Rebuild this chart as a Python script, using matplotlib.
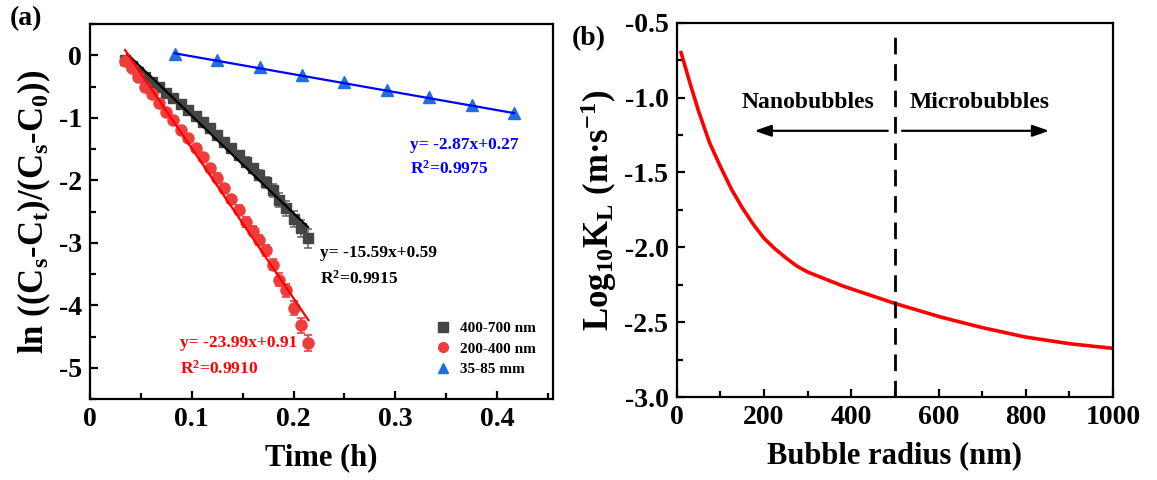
import numpy as np
import matplotlib
matplotlib.use("Agg")
import matplotlib.pyplot as plt
from matplotlib.ticker import MultipleLocator, FormatStrFormatter
from matplotlib.lines import Line2D

plt.rcParams["font.family"] = "Liberation Serif"
plt.rcParams["font.weight"] = "bold"
plt.rcParams["mathtext.fontset"] = "custom"
plt.rcParams["mathtext.rm"] = "Liberation Serif:bold"
plt.rcParams["mathtext.it"] = "Liberation Serif:bold:italic"
plt.rcParams["mathtext.bf"] = "Liberation Serif:bold"
plt.rcParams["mathtext.default"] = "regular"

# (a) dissolution data, time in h
time_pts = [0.0344, 0.041, 0.0475, 0.054, 0.0606, 0.068, 0.075, 0.082, 0.089,
            0.0966, 0.104, 0.111, 0.118, 0.1245, 0.1317, 0.139, 0.146, 0.153,
            0.160, 0.1665, 0.173, 0.180, 0.186, 0.193, 0.2005, 0.2077, 0.2146]
y_400_700 = [-0.08, -0.17, -0.26, -0.35, -0.43, -0.51, -0.60, -0.69, -0.78,
             -0.88, -0.97, -1.06, -1.16, -1.27, -1.38, -1.49, -1.60, -1.70,
             -1.81, -1.91, -2.03, -2.16, -2.31, -2.45, -2.62, -2.77, -2.93]
err_400_700 = [0.01, 0.01, 0.01, 0.01, 0.02, 0.02, 0.02, 0.02, 0.03,
               0.03, 0.03, 0.04, 0.04, 0.05, 0.05, 0.06, 0.06, 0.07,
               0.07, 0.08, 0.09, 0.10, 0.11, 0.12, 0.13, 0.14, 0.15]
y_200_400 = [-0.09, -0.21, -0.35, -0.50, -0.62, -0.77, -0.91, -1.04, -1.19,
             -1.33, -1.49, -1.63, -1.81, -1.96, -2.13, -2.30, -2.47, -2.66,
             -2.81, -2.96, -3.12, -3.35, -3.59, -3.76, -4.04, -4.32, -4.60]
err_200_400 = [0.03, 0.03, 0.04, 0.04, 0.04, 0.05, 0.05, 0.05, 0.05,
               0.06, 0.06, 0.06, 0.06, 0.07, 0.07, 0.07, 0.07, 0.08,
               0.08, 0.08, 0.09, 0.09, 0.10, 0.10, 0.11, 0.12, 0.13]
time_mm = [0.0833, 0.125, 0.1667, 0.2083, 0.25, 0.2917, 0.3333, 0.375, 0.4167]
y_35_85 = [0.02, -0.07, -0.18, -0.31, -0.43, -0.55, -0.66, -0.79, -0.93]

fits = {
    "400-700 nm": (-15.59, 0.59, 0.0364, 0.2143),
    "200-400 nm": (-23.99, 0.91, 0.0344, 0.2146),
    "35-85 mm": (-2.87, 0.27, 0.0833, 0.4167),
}

# (b) mass transfer coefficient vs bubble radius
radius = [10, 20, 30, 50, 75, 100, 125, 150, 175, 200, 225, 250, 275, 300,
          382, 500, 604, 698, 800, 903, 1000]
log_kl = [-0.70, -0.80, -0.90, -1.09, -1.30, -1.46, -1.61, -1.735, -1.845,
          -1.94, -2.01, -2.07, -2.125, -2.165, -2.26, -2.375, -2.465, -2.535,
          -2.60, -2.645, -2.675]


def style_axes(ax):
    for s in ax.spines.values():
        s.set_linewidth(1.6)
    ax.tick_params(which="both", direction="in", width=1.6, labelsize=20,
                   top=False, right=False, pad=6)
    ax.tick_params(which="major", length=6)
    ax.tick_params(which="minor", length=4)
    for lab in ax.get_xticklabels() + ax.get_yticklabels():
        lab.set_fontweight("bold")


fig = plt.figure(figsize=(11.57, 4.80), dpi=100)
ax1 = fig.add_axes([0.0778, 0.16875, 0.4002, 0.78125])
ax2 = fig.add_axes([0.5849, 0.1729, 0.3771, 0.7798])

# ---- panel (a)
c_black, c_red, c_blue = "#454545", "#F03C3C", "#1E6FE0"
ax1.errorbar(time_pts, y_400_700, yerr=err_400_700, fmt="s", color=c_black,
             ecolor="#707070", ms=7, capsize=3, elinewidth=1.2, capthick=1.2,
             zorder=2)
ax1.errorbar(time_pts, y_200_400, yerr=err_200_400, fmt="o", color=c_red,
             ecolor=c_red, ms=8, capsize=3, elinewidth=1.2, capthick=1.2,
             zorder=3)
ax1.plot(time_mm, y_35_85, "^", color=c_blue, ms=8.5, zorder=3)

line_cols = {"400-700 nm": "black", "200-400 nm": "red", "35-85 mm": "blue"}
for name, (k, b, x0, x1) in fits.items():
    xx = np.array([x0, x1])
    ax1.plot(xx, k * xx + b, color=line_cols[name], lw=1.6, zorder=4)

ax1.text(0.3145, -1.44, "y= -2.87x+0.27", color="blue", fontsize=12.5,
         fontweight="bold", va="center")
ax1.text(0.3145, -1.81, "R$^2$=0.9975", color="blue", fontsize=12.5,
         fontweight="bold", va="center")
ax1.text(0.226, -3.17, "y= -15.59x+0.59", color="black", fontsize=12.5,
         fontweight="bold", va="center")
ax1.text(0.226, -3.57, "R$^2$=0.9915", color="black", fontsize=12.5,
         fontweight="bold", va="center")
ax1.text(0.0885, -4.61, "y= -23.99x+0.91", color="red", fontsize=12.5,
         fontweight="bold", va="center")
ax1.text(0.0885, -5.01, "R$^2$=0.9910", color="red", fontsize=12.5,
         fontweight="bold", va="center")

ax1.set_xlim(0, 0.455)
ax1.set_ylim(-5.5, 0.5)
ax1.xaxis.set_minor_locator(MultipleLocator(0.05))
ax1.yaxis.set_minor_locator(MultipleLocator(0.5))
ax1.set_xticks([0, 0.1, 0.2, 0.3, 0.4])
ax1.set_xticklabels(["0", "0.1", "0.2", "0.3", "0.4"])
ax1.set_yticks([0, -1, -2, -3, -4, -5])
ax1.set_yticklabels(["0", "-1", "-2", "-3", "-4", "-5"])
style_axes(ax1)
ax1.set_xlabel("Time (h)", fontsize=22, fontweight="bold", labelpad=8)
ax1.set_ylabel("ln ((C$_s$-C$_t$)/(C$_s$-C$_0$))", fontsize=25,
               fontweight="bold", labelpad=4)

handles = [Line2D([], [], ls="none", marker="s", color=c_black, ms=6.5),
           Line2D([], [], ls="none", marker="o", color=c_red, ms=7),
           Line2D([], [], ls="none", marker="^", color=c_blue, ms=7.5)]
labels = ["400-700 nm", "200-400 nm", "35-85 mm"]
ax1.legend(handles, labels, loc="upper left", bbox_to_anchor=(0.72, 0.235),
           frameon=False, fontsize=11, handletextpad=0.5, labelspacing=0.45,
           handlelength=1.2, borderpad=0.2)

# ---- panel (b)
ax2.plot(radius, log_kl, color="red", lw=2.6)
ax2.plot([500, 500], [-3.0, -0.58], color="black", lw=2, dashes=(6, 3.5))
ax2.annotate("", xy=(172, -1.222), xytext=(490, -1.222),
             arrowprops=dict(arrowstyle="-|>,head_length=1.0,head_width=0.35",
                             color="black", lw=1.6))
ax2.annotate("", xy=(860, -1.222), xytext=(510, -1.222),
             arrowprops=dict(arrowstyle="-|>,head_length=1.0,head_width=0.35",
                             color="black", lw=1.6))
ax2.text(300, -1.03, "Nanobubbles", fontsize=17, fontweight="bold",
         ha="center", va="center")
ax2.text(695, -1.03, "Microbubbles", fontsize=17, fontweight="bold",
         ha="center", va="center")

ax2.set_xlim(0, 1000)
ax2.set_ylim(-3.0, -0.5)
ax2.xaxis.set_major_locator(MultipleLocator(200))
ax2.xaxis.set_minor_locator(MultipleLocator(100))
ax2.yaxis.set_major_locator(MultipleLocator(0.5))
ax2.yaxis.set_minor_locator(MultipleLocator(0.25))
ax2.yaxis.set_major_formatter(FormatStrFormatter("%.1f"))
style_axes(ax2)
ax2.set_xlabel("Bubble radius (nm)", fontsize=22, fontweight="bold", labelpad=8)
ax2.set_ylabel("Log$_{10}$K$_L$ (m·s$^{-1}$)", fontsize=25, fontweight="bold",
               labelpad=4)

fig.text(0.008, 0.962, "(a)", fontsize=20, fontweight="bold", va="center")
fig.text(0.494, 0.92, "(b)", fontsize=20, fontweight="bold", va="center")

fig.savefig("out.png", dpi=100)
